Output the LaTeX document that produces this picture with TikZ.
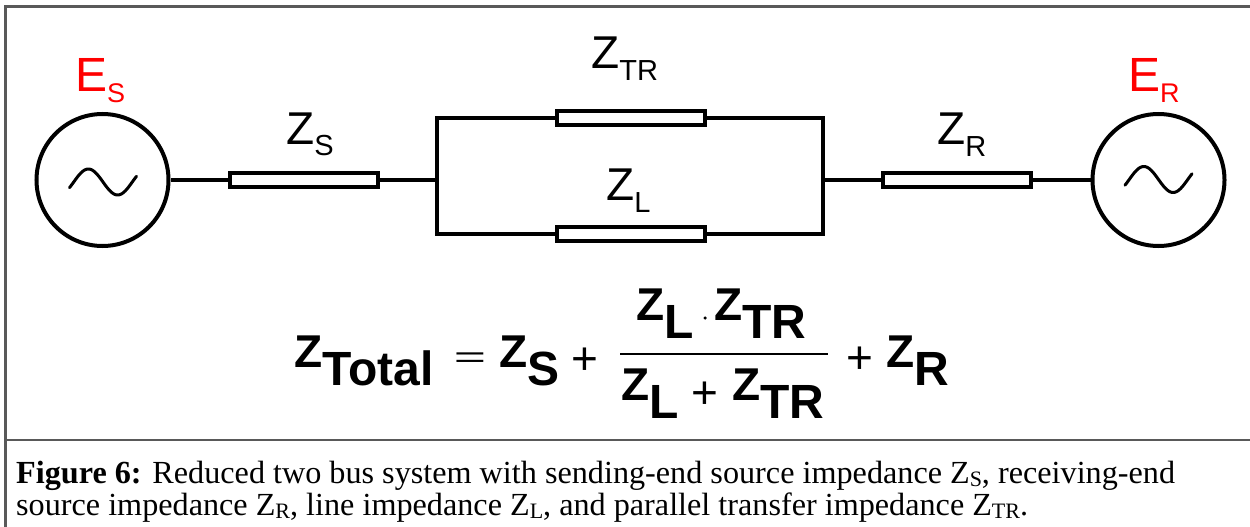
\documentclass[tikz,border=0pt]{standalone}
\usepackage{fontspec}
\setmainfont{Liberation Serif}
\newfontfamily\arialf{Liberation Sans}
\newcommand\csub[1]{\raisebox{-3pt}{\fontsize{22}{22}\selectfont #1}}
\newcommand\fsz[1]{\fontsize{#1}{#1}\selectfont}
\tikzset{
  wire/.style={line width=4pt},
  res/.style={draw, line width=4pt, rectangle, minimum width=148pt, minimum height=14pt, inner sep=0pt, fill=white},
  src/.style={draw, line width=4pt, circle, minimum size=132pt, inner sep=0pt},
  wave/.style={line width=3pt, line cap=round},
  lbl/.style={anchor=base west, inner sep=0pt, font=\arialf\fsz{46}},
  frm/.style={anchor=base west, inner sep=0pt, font=\arialf\bfseries\fsz{46}},
  opr/.style={anchor=base, inner sep=0pt, font=\arialf\fsz{46}},
  frame/.style={draw=black!65, line width=2.5pt},
  captxt/.style={anchor=base west, inner sep=0pt, font=\fsz{32.2}},
}
\begin{document}
\begin{tikzpicture}[x=1pt,y=-1pt]
\useasboundingbox (0,0) rectangle (1250,527);
\clip (0,0) rectangle (1250,527);
% frame
\draw[frame] (5.5,540) -- (5.5,6.5) -- (1260,6.5);
\draw[frame] (5.5,440) -- (1260,440);
% sources
\node[src] (es) at (102.5,180) {};
\node[src] (er) at (1158.5,180) {};
\draw[wave] plot[domain=-26:386, samples=60, smooth] ({103+(\x-180)/412*67}, {182-13*sin(\x)});
\draw[wave] plot[domain=-26:386, samples=60, smooth] ({1158.5+(\x-180)/412*67}, {179.5-13*sin(\x)});
% impedances
\node[res] (zs) at (304,180) {};
\node[res] (ztr) at (630.5,118) {};
\node[res] (zl) at (630.5,233.5) {};
\node[res] (zr) at (956.5,180) {};
\coordinate (jl) at (437,180);
\coordinate (jr) at (823,180);
% wires
\draw[wire] (es.east) -- (zs.west);
\draw[wire] (zs.east) -- (jl);
\draw[wire] (ztr.west) -| (jl) |- (zl.west);
\draw[wire] (ztr.east) -| (jr) |- (zl.east);
\draw[wire] (jr) -- (zr.west);
\draw[wire] (zr.east) -- (er.west);
% labels
\node[lbl, red, font=\arialf\fsz{48}] (eslab) at (75,92) {E\raisebox{-10pt}{\fsz{27}S}};
\node[lbl, red, font=\arialf\fsz{48}] (erlab) at (1128,92) {E\raisebox{-10pt}{\fsz{27}R}};
\node[lbl] (zslab) at (286,144) {Z\raisebox{-11pt}{\fsz{29}S}};
\node[lbl] (ztrlab) at (591,68) {Z\raisebox{-13pt}{\fsz{29}TR}};
\node[lbl] (zllab) at (606,200) {Z\raisebox{-12pt}{\fsz{29}L}};
\node[lbl] (zrlab) at (937,144) {Z\raisebox{-12pt}{\fsz{29}R}};
% formula
\node[frm] (ftot) at (294,367) {Z\raisebox{-18pt}{\fsz{48}Total}};
\node[opr] (feq) at (470,367.5) {\scalebox{1.2}[0.65]{=}};
\node[frm] (fzs) at (499,367) {Z\raisebox{-18pt}{\fsz{48}S}};
\node[opr] (fp1) at (585,374) {+};
\draw[line width=2pt] (620,354) -- (828,354);
\node[frm] (fn1) at (636,320) {Z\raisebox{-18pt}{\fsz{48}L}};
\node[circle, fill, inner sep=0pt, minimum size=3.5pt] (fdot) at (705,318) {};
\node[frm] (fn2) at (714,320) {Z\raisebox{-18pt}{\fsz{48}TR}};
\node[frm] (fd1) at (621,400) {Z\raisebox{-18pt}{\fsz{48}L}};
\node[opr] (fp2) at (705,408) {+};
\node[frm] (fd2) at (732,400) {Z\raisebox{-18pt}{\fsz{48}TR}};
\node[opr] (fp3) at (860,373) {+};
\node[frm] (fzr) at (886,367) {Z\raisebox{-18pt}{\fsz{48}R}};
% caption
\node[captxt] (cap1) at (16,483) {\textbf{Figure 6:} Reduced two bus system with sending-end source impedance Z\csub{S}, receiving-end};
\node[captxt] (cap2) at (16,515) {source impedance Z\csub{R}, line impedance Z\csub{L}, and parallel transfer impedance Z\csub{TR}.};
\end{tikzpicture}
\end{document}
